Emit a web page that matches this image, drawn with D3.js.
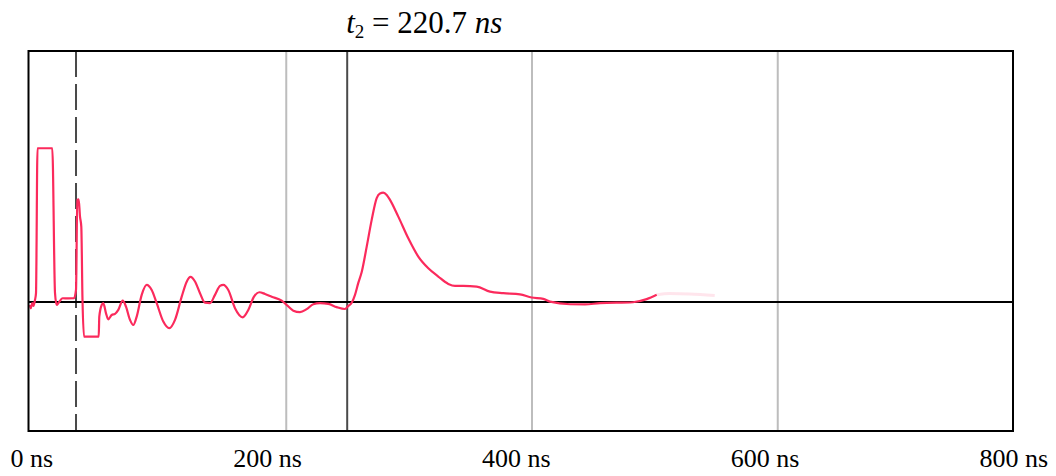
<!DOCTYPE html>
<html>
<head>
<meta charset="utf-8">
<script src="https://cdn.jsdelivr.net/npm/d3@7"></script>
<style>
  html, body { margin: 0; padding: 0; background: #fff; }
  svg { display: block; }
  text { font-family: "Liberation Serif", "Times New Roman", "DejaVu Serif", serif; fill: #000; }
</style>
</head>
<body>
<svg id="chart" width="1056" height="476"></svg>
<script>
// Time axis (ns) and tick labels
const tickValues = [0, 200, 400, 600, 800];
const tickLabels = ["0 ns", "200 ns", "400 ns", "600 ns", "800 ns"];
const gridValues = [200, 400, 600];

// Cursor markers: t1 (dashed) and t2 = t1 + 220.7 ns (solid)
const t1 = 28.9;
const deltaT = 220.7;
const titleValue = "220.7";

// Measured waveform: time (ns) and normalized amplitude
const timeNs = [
  -8.55, -7.98, -6.67, -5.70, -4.48, -3.66, -2.44, 9.60, 11.80, 13.18,
  14.49, 18.07, 22.38, 27.26, 28.89, 29.95, 31.09, 32.15, 33.20, 34.18,
  35.40, 47.37, 47.85, 49.81, 51.11, 53.31, 55.18, 57.95, 60.63, 63.32,
  66.90, 69.58, 72.84, 75.52, 78.29, 82.36, 86.43, 90.50, 94.57, 99.94,
  104.82, 109.46, 114.91, 118.98, 122.08, 125.74, 129.81, 133.88, 137.95, 142.02,
  146.08, 148.77, 152.84, 158.29, 164.56, 169.12, 173.75, 178.07, 182.71, 188.16,
  196.30, 200.37, 205.74, 211.19, 216.64, 222.02, 227.47, 234.22, 241.06, 247.81,
  250.50, 253.27, 255.95, 258.64, 261.41, 265.48, 269.54, 273.61, 276.30, 278.98,
  281.75, 284.44, 291.19, 299.33, 307.47, 315.61, 323.74, 331.88, 337.34, 344.09,
  355.00, 365.82, 376.64, 390.23, 399.75, 409.19, 414.65, 430.93, 443.13, 455.34,
  482.20, 493.35, 501.48
];
const amplitude = [
  -0.020, -0.041, -0.008, -0.026, 0.013, 0.057, 1.000, 1.000, 0.059, -0.020,
  -0.008, 0.024, 0.023, 0.024, 0.078, 0.664, 0.668, 0.555, 0.490, 0.013,
  -0.226, -0.226, -0.096, -0.020, -0.008, -0.074, -0.113, -0.085, -0.078, -0.052,
  0.008, -0.031, -0.117, -0.150, -0.096, 0.046, 0.111, 0.078, -0.008, -0.128,
  -0.171, -0.117, 0.034, 0.132, 0.163, 0.133, 0.057, -0.005, -0.008, 0.046,
  0.104, 0.111, 0.078, -0.041, -0.100, -0.052, 0.034, 0.063, 0.052, 0.034,
  0.008, -0.020, -0.057, -0.067, -0.047, -0.015, -0.008, -0.013, -0.034, -0.046,
  -0.026, -0.005, 0.046, 0.124, 0.195, 0.360, 0.534, 0.675, 0.706, 0.711,
  0.696, 0.664, 0.555, 0.414, 0.295, 0.219, 0.165, 0.117, 0.104, 0.104,
  0.100, 0.067, 0.057, 0.049, 0.029, 0.020, 0.002, -0.015, -0.016, -0.008,
  -0.002, 0.018, 0.046
];
// Faint tail where the trace fades out
const tailNs = [501.48, 512.05, 528.3, 548.7];
const tailAmp = [0.046, 0.055, 0.052, 0.042];

const svg = d3.select("#chart");

// Plot frame
const frame = { left: 28.5, right: 1013, top: 51, bottom: 431 };

const x = d3.scaleLinear().domain([0, 800]).range([40.5, 1023.5]);
const y = d3.scaleLinear().domain([-0.84, 1.633]).range([frame.bottom, frame.top]);
// Tick labels sit right-aligned on their own slightly shifted scale
const xLabel = d3.scaleLinear().domain([0, 800]).range([53, 1048]);

// Vertical grid lines
svg.append("g")
  .selectAll("line")
  .data(gridValues)
  .join("line")
  .attr("x1", d => x(d)).attr("x2", d => x(d))
  .attr("y1", frame.top).attr("y2", frame.bottom)
  .attr("stroke", "#bdbdbd")
  .attr("stroke-width", 2);

// t1 dashed marker
svg.append("line")
  .attr("x1", x(t1)).attr("x2", x(t1))
  .attr("y1", frame.top).attr("y2", frame.bottom)
  .attr("stroke", "#4a4a4a")
  .attr("stroke-width", 2)
  .attr("stroke-dasharray", "26,7");

// t2 solid marker
const t2 = t1 + deltaT;
svg.append("line")
  .attr("x1", x(t2)).attr("x2", x(t2))
  .attr("y1", frame.top).attr("y2", frame.bottom)
  .attr("stroke", "#4a4a4a")
  .attr("stroke-width", 2);

// Zero baseline
svg.append("line")
  .attr("x1", frame.left).attr("x2", frame.right)
  .attr("y1", y(0)).attr("y2", y(0))
  .attr("stroke", "#000")
  .attr("stroke-width", 2);

// Waveform
const points = timeNs.map((t, i) => [t, amplitude[i]]);
const tail = tailNs.map((t, i) => [t, tailAmp[i]]);
const line = d3.line()
  .x(d => x(d[0]))
  .y(d => y(d[1]))
  .curve(d3.curveMonotoneX);

svg.append("path")
  .datum(tail)
  .attr("d", line)
  .attr("fill", "none")
  .attr("stroke", "#ff2d5f")
  .attr("stroke-opacity", 0.12)
  .attr("stroke-width", 3);

svg.append("path")
  .datum(points)
  .attr("d", line)
  .attr("fill", "none")
  .attr("stroke", "#fb2a5c")
  .attr("stroke-width", 2.2)
  .attr("stroke-linejoin", "round");

// Frame border
svg.append("rect")
  .attr("x", frame.left).attr("y", frame.top)
  .attr("width", frame.right - frame.left)
  .attr("height", frame.bottom - frame.top)
  .attr("fill", "none")
  .attr("stroke", "#000")
  .attr("stroke-width", 2);

// Time axis labels
svg.append("g")
  .selectAll("text")
  .data(tickValues)
  .join("text")
  .attr("x", d => xLabel(d))
  .attr("y", 467)
  .attr("text-anchor", "end")
  .attr("font-size", 26)
  .text((d, i) => tickLabels[i]);

// Title: t2 = 220.7 ns
const title = svg.append("text")
  .attr("x", x(t2) - 1)
  .attr("y", 33)
  .attr("font-size", 31);
title.append("tspan").attr("font-style", "italic").text("t");
title.append("tspan").attr("font-size", 19).attr("dy", 5).text("2");
title.append("tspan").attr("dy", -5).text(" = " + titleValue + " ");
title.append("tspan").attr("font-style", "italic").text("ns");
</script>
</body>
</html>
